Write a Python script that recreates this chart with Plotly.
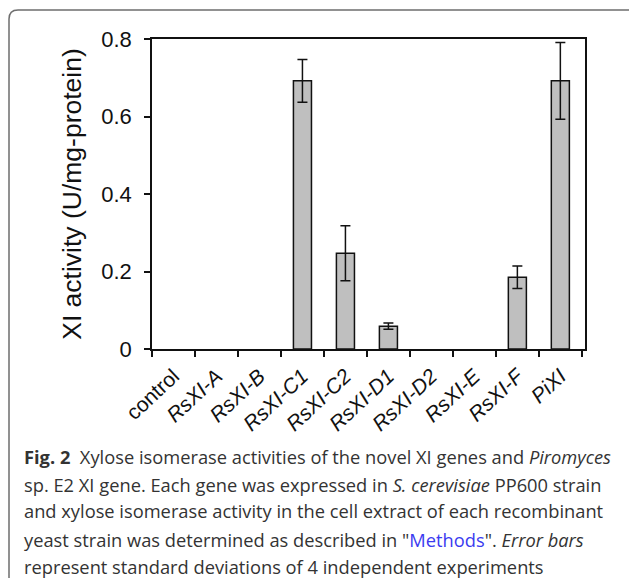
import plotly.graph_objects as go

categories = ["control", "RsXI-A", "RsXI-B", "RsXI-C1", "RsXI-C2", "RsXI-D1", "RsXI-D2", "RsXI-E", "RsXI-F", "PiXI"]
tick_labels = ["control", "<i>RsXI-A</i>", "<i>RsXI-B</i>", "<i>RsXI-C1</i>", "<i>RsXI-C2</i>", "<i>RsXI-D1</i>",
               "<i>RsXI-D2</i>", "<i>RsXI-E</i>", "<i>RsXI-F</i>", "<i>PiXI</i>"]
activity = [0, 0, 0, 0.692, 0.247, 0.059, 0, 0, 0.185, 0.692]
std_dev = [0, 0, 0, 0.055, 0.071, 0.008, 0, 0, 0.029, 0.099]
y_ticks = [0, 0.2, 0.4, 0.6, 0.8]
y_tick_text = ["0", "0.2", "0.4", "0.6", "0.8"]

caption_lines = [
    "<b>Fig. 2</b>  Xylose isomerase activities of the novel XI genes and <i>Piromyces</i>",
    "sp. E2 XI gene. Each gene was expressed in <i>S. cerevisiae</i> PP600 strain",
    "and xylose isomerase activity in the cell extract of each recombinant",
    "yeast strain was determined as described in \"<span style='color:#3b3bf0'>Methods</span>\". <i>Error bars</i>",
    "represent standard deviations of 4 independent experiments",
]

W, H = 629, 578
ML, MR, MT, MB = 152, 44, 39, 229
PW, PH = W - ML - MR, H - MT - MB


def px_x(p):
    return (p - ML) / PW


def px_y(p):
    return (H - MB - p) / PH


# error bars only where a deviation was measured
err_x = [c for c, s in zip(categories, std_dev) if s > 0]
err_y = [v for v, s in zip(activity, std_dev) if s > 0]
err_s = [s for s in std_dev if s > 0]

fig = go.Figure()
fig.add_trace(go.Bar(
    x=categories, y=activity,
    marker=dict(color="#bfbfbf",
                line=dict(color="#111111", width=[1.5 if v > 0 else 0 for v in activity])),
    width=0.42, hoverinfo="skip",
))
fig.add_trace(go.Scatter(
    x=err_x, y=err_y, mode="markers", marker=dict(size=0.1, color="rgba(0,0,0,0)"),
    error_y=dict(type="data", array=err_s, visible=True, color="#111111", thickness=1.5, width=5),
))

fig.update_layout(
    width=W, height=H,
    margin=dict(l=ML, r=MR, t=MT, b=MB),
    paper_bgcolor="white", plot_bgcolor="white",
    showlegend=False,
    font=dict(family="Liberation Sans, Arial", color="#111111"),
)
fig.update_xaxes(
    tickmode="array", tickvals=categories, ticktext=tick_labels,
    tickangle=-43, tickfont=dict(size=21, family="Liberation Sans, Arial", color="#111111"),
    ticklabelstandoff=5,
    showline=True, linecolor="#111111", linewidth=1.5, mirror=True,
    ticks="outside", ticklen=6, tickwidth=1.5, tickcolor="#111111", tickson="boundaries",
    showgrid=False, zeroline=False,
)
fig.update_yaxes(
    range=[0, 0.8], tickmode="array", tickvals=y_ticks, ticktext=y_tick_text,
    tickfont=dict(size=22, family="Liberation Sans, Arial", color="#111111"),
    ticklabelstandoff=8,
    showline=True, linecolor="#111111", linewidth=1.5, mirror=True,
    ticks="outside", ticklen=6, tickwidth=1.5, tickcolor="#111111",
    showgrid=False, zeroline=False,
    title=dict(text="XI activity (U/mg-protein)", font=dict(size=26.5, family="Liberation Sans, Arial", color="#111111"), standoff=12),
)

line_y = [456, 484, 511, 539, 566]
for text, yp in zip(caption_lines, line_y):
    fig.add_annotation(
        text=text, xref="paper", yref="paper", x=px_x(22), y=px_y(yp),
        xanchor="left", yanchor="middle", showarrow=False,
        font=dict(family="Open Sans", size=18.3, color="#333333"),
    )

# rounded border frame
x0, y0, x1, y1, r = px_x(9), px_y(10), px_x(645), px_y(586), 9
rx, ry = r / PW, r / PH
path = (f"M {x0},{y0 - ry} Q {x0},{y0} {x0 + rx},{y0} L {x1 - rx},{y0} Q {x1},{y0} {x1},{y0 - ry} "
        f"L {x1},{y1 + ry} Q {x1},{y1} {x1 - rx},{y1} L {x0 + rx},{y1} Q {x0},{y1} {x0},{y1 + ry} Z")
fig.add_shape(type="path", path=path, xref="paper", yref="paper",
              line=dict(color="#6e6e6e", width=1.5), layer="above")

fig.write_html("out.html", config={"displayModeBar": False},
               post_script="document.body.style.margin='0';")
